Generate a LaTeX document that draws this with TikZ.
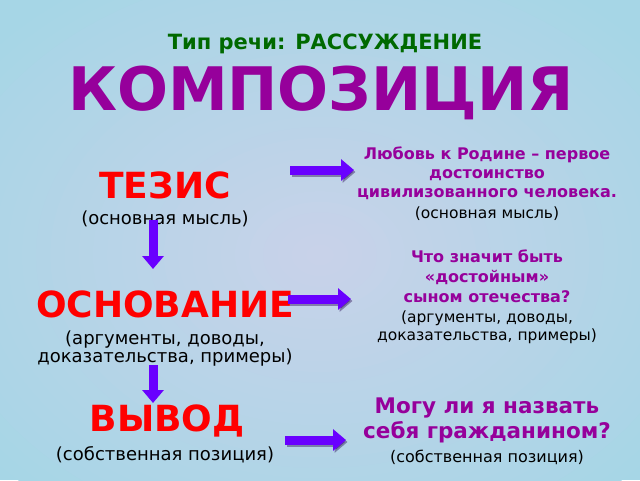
\documentclass[tikz,border=0pt]{standalone}
\usepackage{fontspec}
\setmainfont{DejaVu Sans}
\usetikzlibrary{positioning,arrows.meta}

\definecolor{bgin}{RGB}{200,210,233}
\definecolor{bgout}{RGB}{166,214,230}
\definecolor{titlegreen}{RGB}{0,105,0}
\definecolor{titlepurple}{RGB}{150,0,155}
\definecolor{headred}{RGB}{255,0,0}
\definecolor{arrowblue}{RGB}{105,0,255}
\newcommand{\fs}[2]{\fontsize{#1}{#2}\selectfont}

\begin{document}
\begin{tikzpicture}[
      x=1pt, y=-1pt,
      head/.style={font=\fs{36}{40}\bfseries, text=headred, inner sep=0pt},
      note/.style={font=\fs{18}{18}, align=center, inner sep=0pt},
      idea/.style={font=\fs{16}{19}\bfseries, text=titlepurple, align=center, inner sep=0pt},
      rnote/.style={font=\fs{15.5}{18}, align=center, inner sep=0pt},
      bigarrow/.style={draw=arrowblue, line width=9pt,
                       -{Triangle[width=21pt,length=13pt]}},
      shade/.style={draw=black!70!arrowblue, opacity=0.4, line width=9pt,
                    -{Triangle[width=21pt,length=13pt]}}
    ]
    \useasboundingbox (0,0) rectangle (640,480);
    % background, lighter towards the middle
    \begin{scope}
      \clip (0,0) rectangle (640,480);
      \fill[bgout] (0,0) rectangle (640,480);
      \foreach \i in {1,...,30} {
        \pgfmathsetmacro\p{\i*100/30}
        \pgfmathsetmacro\rx{440*(1-\i/31)}
        \pgfmathsetmacro\ry{330*(1-\i/31)}
        \fill[bgin!\p!bgout] (320,255) ellipse ({\rx} and {\ry});
      }
    \end{scope}

    % title
    \node[font=\fs{21}{24}\bfseries, text=titlegreen, inner sep=0pt] (type) at (325,44)
         {Тип речи: РАССУЖДЕНИЕ};
    \node[font=\fs{60}{66}\bfseries, text=titlepurple, inner sep=0pt] (compo) at (321,93)
         {КОМПОЗИЦИЯ};

    % left column
    \node[head] (tesis) at (165,185) {ТЕЗИС};
    \node[note] (tesisnote) at (165,219) {(основная мысль)};
    \node[head] (osnova) at (165,304) {ОСНОВАНИЕ};
    \node[note] (osnovanote) at (165,349) {(аргументы, доводы,\\доказательства, примеры)};
    \node[head] (vyvod) at (167,421) {ВЫВОД};
    \node[note] (vyvodnote) at (165,455) {(собственная позиция)};

    % right column
    \node[idea] (lyubov) at (487,173)
         {Любовь к Родине – первое\\достоинство\\цивилизованного человека.};
    \node[rnote] (lyubovnote) at (487,214) {(основная мысль)};
    \node[idea, font=\fs{16}{20}\bfseries] (chto) at (487,276)
         {Что значит быть\\«достойным»\\сыном отечества?};
    \node[rnote] (chtonote) at (487,327) {(аргументы, доводы,\\доказательства, примеры)};
    \node[idea, font=\fs{21.5}{25}\bfseries] (mogu) at (487,420)
         {Могу ли я назвать\\себя гражданином?};
    \node[rnote, font=\fs{16}{18}] (mogunote) at (487,457) {(собственная позиция)};

    % arrow ends
    \coordinate (d1a) at (153,220);
    \coordinate (d1b) at (153,269);
    \coordinate (d2a) at (153,365);
    \coordinate (d2b) at (153,403);
    \coordinate (r1a) at (290,170);
    \coordinate (r1b) at (354,170);
    \coordinate (r2a) at (288,299);
    \coordinate (r2b) at (351,299);
    \coordinate (r3a) at (285,440);
    \coordinate (r3b) at (346,440);

    % arrows
    \foreach \a/\b in {r1a/r1b, r2a/r2b, r3a/r3b}
      \draw[shade] ([shift={(1.5,2)}]\a) -- ([shift={(1.5,2)}]\b);
    \foreach \a/\b in {d1a/d1b, d2a/d2b, r1a/r1b, r2a/r2b, r3a/r3b}
      \draw[bigarrow] (\a) -- (\b);

  \end{tikzpicture}
\end{document}
